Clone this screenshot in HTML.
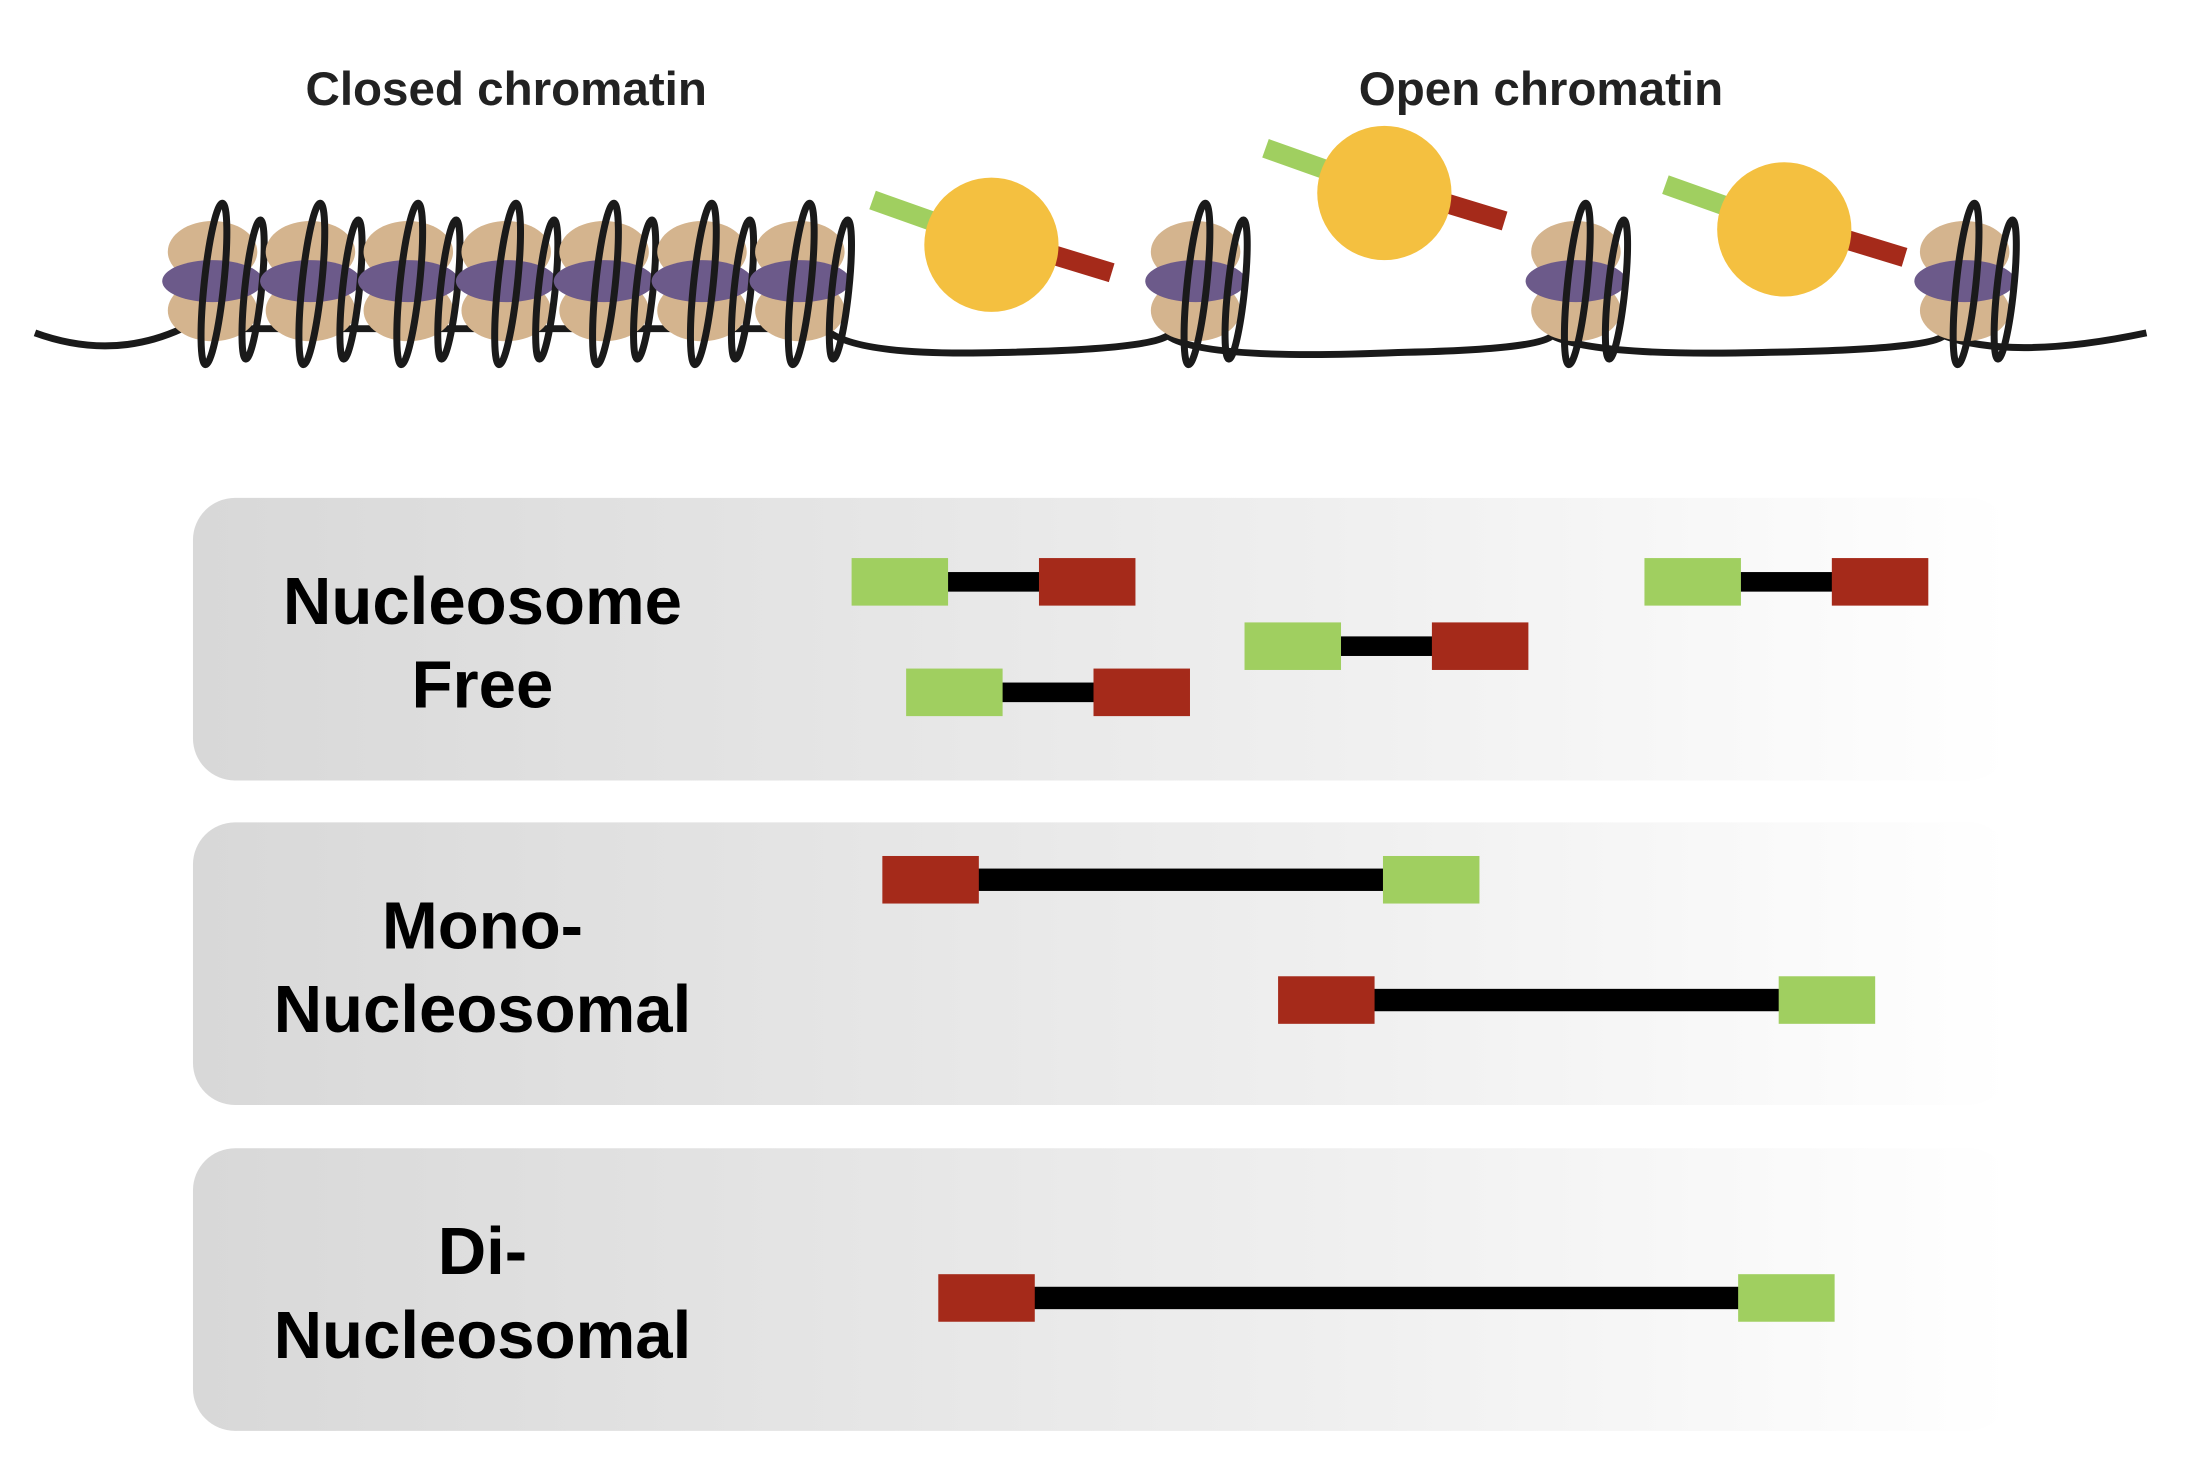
<!DOCTYPE html>
<html><head><meta charset="utf-8"><style>
html,body{margin:0;padding:0;background:#fff;}
svg{display:block;}
</style></head><body>
<svg id="fig" width="2194" height="1470" viewBox="0 0 1569 1051" preserveAspectRatio="none" xmlns="http://www.w3.org/2000/svg">
<defs>
<linearGradient id="pg" x1="0" x2="1" y1="0" y2="0">
<stop offset="0" stop-color="#d8d8d8"/><stop offset="0.6" stop-color="#eeeeee"/><stop offset="1" stop-color="#ffffff"/>
</linearGradient>
</defs>
<text x="362" y="75" text-anchor="middle" font-family="Liberation Sans, sans-serif" font-size="34" font-weight="bold" fill="#222">Closed chromatin</text>
<text x="1102" y="75" text-anchor="middle" font-family="Liberation Sans, sans-serif" font-size="34" font-weight="bold" fill="#222">Open chromatin</text>
<g id="dna"></g>
<g id="nucs"></g>
<g id="tfs"></g>
<g id="panels"></g>
</svg>
<script>
const NS="http://www.w3.org/2000/svg";
const nucX=[150,220,290,360,430,500,570,853,1125,1403];
const tfs=[[709,175],[990,138],[1276,164]];
const panelLabels=[["Nucleosome","Free"],["Mono-","Nucleosomal"],["Di-","Nucleosomal"]];
const panelY=[356,588,821];
// fragments: panel, start, end, y, left color ('g' or 'r')
const fragPanel=[0,0,0,0,1,1,2];
const fragStart=[609,890,648,1176,631,914,671];
const fragEnd=[812,1093,851,1379,1058,1341,1312];
const fragY=[416,462,495,416,629,715,928];
const fragLeft=['g','g','g','g','r','r','r'];
const G="#a0cf60",R="#a52a1a";
function el(t,a,p){const e=document.createElementNS(NS,t);for(const k in a)e.setAttribute(k,a[k]);p.appendChild(e);return e;}
const dna=document.getElementById('dna');
let d="M25,238 Q80,258 130,235";
d+=" L590,235 Q610,255 715,252 Q820,250 835,240";
d+=" Q860,258 1000,252 Q1100,250 1110,240 Q1140,255 1260,252 Q1380,250 1390,240 Q1440,258 1535,238";
let p=el('path',{d:d,fill:'none',stroke:'#1a1a1a','stroke-width':5},dna);


const nucs=document.getElementById('nucs');
nucX.forEach((x,i)=>{
 const g=el('g',{},nucs);
 
 
 el('ellipse',{cx:x+2,cy:180,rx:32,ry:22,fill:'#d4b48e'},g);
 el('ellipse',{cx:x+2,cy:222,rx:32,ry:22,fill:'#d4b48e'},g);
 el('ellipse',{cx:x+2,cy:201,rx:36,ry:15,fill:'#6c5a8a'},g);
 el('ellipse',{cx:x+3,cy:203,rx:7,ry:58,fill:'none',stroke:'#1a1a1a','stroke-width':5,transform:'rotate(6 '+(x+3)+' 203)'},g);
 el('ellipse',{cx:x+31,cy:207,rx:6,ry:50,fill:'none',stroke:'#1a1a1a','stroke-width':5,transform:'rotate(6 '+(x+31)+' 207)'},g);
});
const tg=document.getElementById('tfs');
tfs.forEach((c,i)=>{
 const g=el('g',{},tg);
 
 
 el('line',{x1:c[0]-85,y1:c[1]-32,x2:c[0]-40,y2:c[1]-16,stroke:G,'stroke-width':14},g);
 el('line',{x1:c[0]+40,y1:c[1]+6,x2:c[0]+86,y2:c[1]+20,stroke:R,'stroke-width':14},g);
 el('circle',{cx:c[0],cy:c[1],r:48,fill:'#f4c040'},g);
});
const pg=document.getElementById('panels');
panelY.forEach((y,i)=>{
 const g=el('g',{},pg);
 
 
 el('rect',{x:138,y:y,width:1300,height:202,rx:30,fill:'url(#pg)'},g);
 panelLabels[i].forEach((t,j)=>{
  const tx=el('text',{x:345,y:y+90+j*60,'text-anchor':'middle','font-family':'Liberation Sans, sans-serif','font-size':48,'font-weight':'bold',fill:'#000'},g);
  tx.textContent=t;
  
  
 });
});
fragStart.forEach((s,i)=>{
 const e=fragEnd[i],y=fragY[i];
 const g=el('g',{},pg);
 
 
 const lw=fragPanel[i]===0?14:16;
 el('rect',{x:s+60,y:y-lw/2,width:e-s-120,height:lw,fill:'#000'},g);
 const lc=fragLeft[i]==='g'?G:R, rc=fragLeft[i]==='g'?R:G;
 el('rect',{x:s,y:y-17,width:69,height:34,fill:lc},g);
 el('rect',{x:e-69,y:y-17,width:69,height:34,fill:rc},g);
});
</script>
</body></html>
